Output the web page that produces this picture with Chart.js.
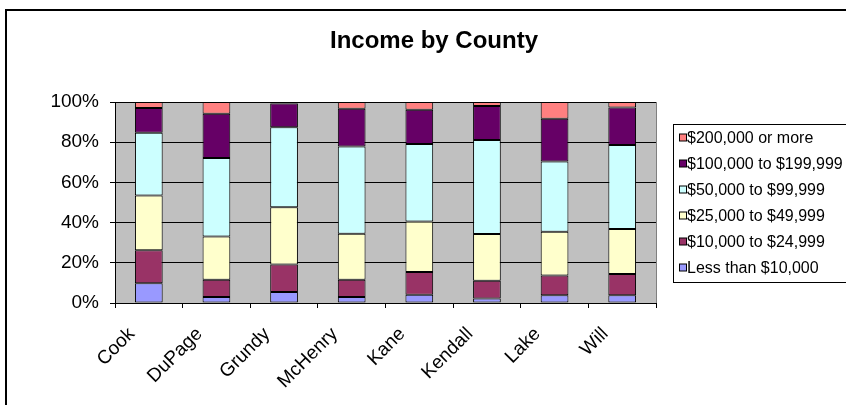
<!DOCTYPE html>
<html>
<head>
<meta charset="utf-8">
<title>Income by County</title>
<script src="https://cdn.jsdelivr.net/npm/chart.js@4"></script>
<style>
  html, body { margin: 0; padding: 0; background: #fff; overflow: hidden; }
  canvas { display: block; }
</style>
</head>
<body>
<canvas id="chart" width="846" height="405"></canvas>
<script>
// counties along the x axis
const counties = ["Cook", "DuPage", "Grundy", "McHenry", "Kane", "Kendall", "Lake", "Will"];

// share of households per income band (%)
const lessThan10k = [9.8, 3.0, 5.5, 3.0, 4.1, 2.3, 3.8, 3.8];
const from10kTo25k = [16.4, 8.6, 13.7, 8.6, 11.3, 8.8, 9.9, 10.6];
const from25kTo50k = [27.3, 21.5, 28.4, 22.9, 25.2, 23.2, 21.8, 22.4];
const from50kTo100k = [31.2, 39.0, 39.8, 43.3, 38.5, 46.8, 34.9, 41.8];
const from100kTo200k = [12.3, 22.1, 11.8, 18.9, 17.1, 16.9, 21.3, 18.7];
const over200k = [3.0, 5.8, 0.8, 3.3, 3.8, 2.0, 8.3, 2.7];

const seriesNames = [
  "Less than $10,000",
  "$10,000 to $24,999",
  "$25,000 to $49,999",
  "$50,000 to $99,999",
  "$100,000 to $199,999",
  "$200,000 or more"
];
const seriesColors = ["#9999FF", "#993366", "#FFFFCC", "#CCFFFF", "#660066", "#FF8080"];
const seriesValues = [lessThan10k, from10kTo25k, from25kTo50k, from50kTo100k, from100kTo200k, over200k];

const yTicks = [0, 20, 40, 60, 80, 100];

const FONT = 'Arial, "Liberation Sans", sans-serif';

// plot background, frame, title and boxed legend like the old Excel look
const excelLook = {
  id: "excelLook",
  beforeDraw(chart) {
    const { ctx, chartArea: a } = chart;
    ctx.save();
    ctx.fillStyle = "#fff";
    ctx.fillRect(0, 0, chart.width, chart.height);
    ctx.strokeStyle = "#000";
    ctx.lineWidth = 2;
    ctx.strokeRect(6, 10, chart.width + 20, chart.height + 20);
    ctx.fillStyle = "#C0C0C0";
    ctx.fillRect(a.left, a.top, a.right - a.left, a.bottom - a.top);
    ctx.strokeStyle = "#808080";
    ctx.lineWidth = 1;
    ctx.strokeRect(a.left + 0.5, a.top + 0.5, a.right - a.left, a.bottom - a.top);
    ctx.restore();
  },
  afterDraw(chart) {
    const ctx = chart.ctx;
    ctx.save();
    // title
    ctx.fillStyle = "#000";
    ctx.font = "bold 24px " + FONT;
    ctx.textAlign = "center";
    ctx.textBaseline = "alphabetic";
    ctx.fillText("Income by County", 434, 48);

    // legend box
    ctx.strokeStyle = "#000";
    ctx.lineWidth = 1;
    ctx.strokeRect(673.5, 124.5, 220, 158);
    ctx.font = "16px " + FONT;
    ctx.textAlign = "left";
    ctx.textBaseline = "middle";
    const ds = chart.data.datasets.slice().reverse();
    ds.forEach((d, i) => {
      const y = 137.5 + i * 26;
      ctx.fillStyle = d.backgroundColor;
      ctx.fillRect(679.5, y - 3.5, 7, 7);
      ctx.strokeRect(679.5, y - 3.5, 7, 7);
      ctx.fillStyle = "#000";
      ctx.fillText(d.label, 687, y + 1);
    });
    ctx.restore();
  }
};

const datasets = seriesNames.map((name, i) => ({
  label: name,
  data: seriesValues[i],
  backgroundColor: seriesColors[i],
  borderColor: "#000",
  borderWidth: 1,
  borderSkipped: false,
  barPercentage: 0.41,
  categoryPercentage: 1
}));

new Chart(document.getElementById("chart"), {
  type: "bar",
  data: { labels: counties, datasets },
  plugins: [excelLook],
  options: {
    responsive: false,
    animation: false,
    devicePixelRatio: 1,
    layout: { padding: { top: 102, right: 190, left: 0, bottom: 0 } },
    plugins: {
      legend: { display: false },
      title: { display: false },
      tooltip: { enabled: false }
    },
    scales: {
      x: {
        stacked: true,
        afterFit(scale) { scale.height = 102; },
        grid: {
          display: true,
          drawOnChartArea: false,
          offset: true,
          tickLength: 5,
          color: "#000"
        },
        border: { color: "#000", width: 1 },
        ticks: {
          color: "#000",
          font: { family: FONT, size: 19 },
          minRotation: 45,
          maxRotation: 45,
          padding: 15,
          labelOffset: -17
        }
      },
      y: {
        stacked: true,
        min: 0,
        max: 100,
        afterFit(scale) { scale.width = 115; },
        afterBuildTicks(scale) { scale.ticks = yTicks.map(v => ({ value: v })); },
        grid: { color: "#000", tickLength: 5 },
        border: { color: "#000", width: 1 },
        ticks: {
          color: "#000",
          font: { family: FONT, size: 19 },
          padding: 11,
          callback: v => v + "%"
        }
      }
    }
  }
});
</script>
</body>
</html>
